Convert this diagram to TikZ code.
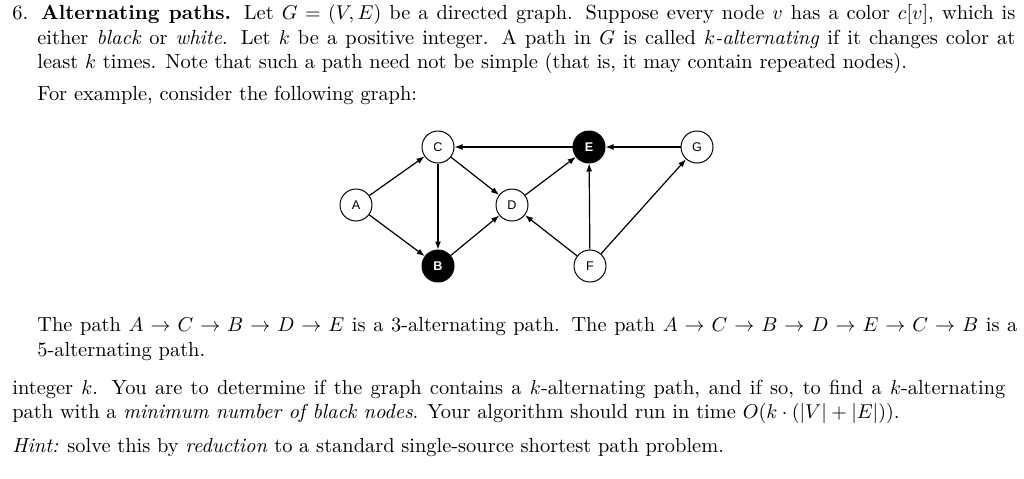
\documentclass[tikz,border=0pt]{standalone}
\usepackage{fontspec}
\newfontfamily\nodefont{Liberation Sans}
\usetikzlibrary{arrows.meta}
\begin{document}
\begin{tikzpicture}[x=0.5pt,y=-0.5pt,
  txt/.style={anchor=base west,inner sep=0pt,font=\fontsize{10.2}{12}\selectfont},
  wn/.style={circle,draw,line width=0.5pt,minimum size=16pt,inner sep=0pt,font=\nodefont\fontsize{6.3}{7}\selectfont},
  bn/.style={wn,fill=black,text=white,font=\nodefont\bfseries\fontsize{6.3}{7}\selectfont},
  ed/.style={-{Latex[length=4pt,width=3pt]},line width=0.6pt}]
\useasboundingbox (0,0) rectangle (1024,478);
\node[txt] (l1) at (12,19) {\makebox[501.5pt][s]{6. \textbf{Alternating paths.} Let $G=(V,E)$ be a directed graph. Suppose every node $v$ has a color $c[v]$, which is}};
\node[txt] (l2) at (37,44) {\makebox[489pt][s]{either \textit{black} or \textit{white}. Let $k$ be a positive integer. A path in $G$ is called \textit{$k$-alternating} if it changes color at}};
\node[txt] (l3) at (37,68) {least $k$ times. Note that such a path need not be simple (that is, it may contain repeated nodes).};
\node[txt] (l4) at (37,100) {For example, consider the following graph:};
\node[txt] (l5) at (37,331) {\makebox[490pt][s]{The path $A\to C\to B\to D\to E$ is a 3-alternating path. The path $A\to C\to B\to D\to E\to C\to B$ is a}};
\node[txt] (l6) at (37,356) {5-alternating path.};
\node[txt] (l7) at (12,394) {\makebox[496.5pt][s]{integer $k$. You are to determine if the graph contains a $k$-alternating path, and if so, to find a $k$-alternating}};
\node[txt] (l8) at (12,418) {path with a \textit{minimum number of black nodes}. Your algorithm should run in time $O(k\cdot(|V|+|E|))$.};
\node[txt] (l9) at (12,452) {\textit{Hint:} solve this by \textit{reduction} to a standard single-source shortest path problem.};
\node[wn] (A) at (356,205) {A};
\node[wn] (C) at (438,147) {C};
\node[bn] (E) at (589,147) {E};
\node[wn] (G) at (697,147) {G};
\node[wn] (D) at (512,205) {D};
\node[bn] (B) at (438,266) {B};
\node[wn] (F) at (590,266) {F};
\draw[ed] (A) -- (C);
\draw[ed] (A) -- (B);
\draw[ed] (C) -- (B);
\draw[ed] (C) -- (D);
\draw[ed] (B) -- (D);
\draw[ed] (D) -- (E);
\draw[ed] (E) -- (C);
\draw[ed] (G) -- (E);
\draw[ed] (F) -- (E);
\draw[ed] (F) -- (D);
\draw[ed] (F) -- (G);
\end{tikzpicture}
\end{document}
